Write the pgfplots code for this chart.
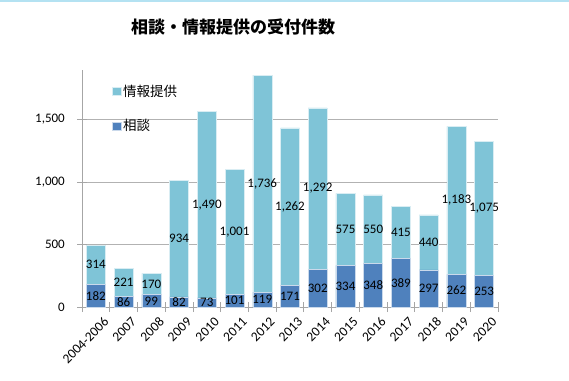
\documentclass[border=0pt]{standalone}
\usepackage{pgfplots}
\usepackage{pgfplotstable}
\pgfplotsset{compat=1.18}
\usepackage{fontspec}
\setmainfont{Carlito}
\newfontfamily\cjk{Noto Sans CJK JP}
\definecolor{dark}{HTML}{4F81BD}
\definecolor{light}{HTML}{7FC4D7}
\definecolor{topline}{HTML}{B4E2F2}
\pgfplotstableread{
x a b
0 182 314
1 86 221
2 99 170
3 82 934
4 73 1490
5 101 1001
6 119 1736
7 171 1262
8 302 1292
9 334 575
10 348 550
11 389 415
12 297 440
13 262 1183
14 253 1075
}\data
\begin{document}
\begin{tikzpicture}
\path[use as bounding box] (0,0) rectangle (569pt,-380pt);
\draw[line width=2pt, topline] (0,-1pt) -- (569pt,-1pt);
\node[font=\cjk\bfseries\fontsize{17}{19}\selectfont, anchor=center] at (233pt,-27pt) {相談・情報提供の受付件数};
\begin{axis}[
  at={(82pt,-307pt)}, anchor=south west,
  scale only axis, width=416pt, height=237.5pt,
  xmin=-0.5, xmax=14.5, ymin=0, ymax=1900,
  axis x line*=bottom, axis y line*=left,
  axis line style={draw=gray!70, line width=0.8pt},
  every inner x axis line/.append style={-}, every inner y axis line/.append style={-},
  ytick={0,500,1000,1500},
  ymajorgrids, grid style={gray!60, line width=0.6pt},
  xtick={0,...,14},
  xticklabels={2004-2006,2007,2008,2009,2010,2011,2012,2013,2014,2015,2016,2017,2018,2019,2020},
  minor xtick={-0.5,0.5,...,14.5},
  major x tick style={draw=none},
  minor x tick style={draw=gray!70, line width=0.8pt},
  major y tick style={draw=gray!70, line width=0.8pt},
  tick align=center, major tick length=10pt, minor tick length=10pt,
  x tick label style={rotate=45, anchor=north east, font=\fontsize{13.5}{15}\selectfont, inner sep=0pt, yshift=-8pt, xshift=2pt},
  y tick label style={font=\fontsize{13}{15}\selectfont, inner sep=0pt, xshift=-12pt},
  /pgf/number format/assume math mode=true,
  /pgf/number format/1000 sep={,},
  legend style={font=\cjk\fontsize{13.5}{15}\selectfont, draw=none, fill=none, at={(0.071,0.945)}, anchor=north west, row sep=18pt, inner sep=0pt},
  legend cell align=left,
  legend image code/.code={\fill[#1] (0pt,-4pt) rectangle (9pt,4pt);},
  clip=false,
]
\addplot[ybar, bar shift=0pt, bar width=19pt, fill=light, draw=white!70!light, line width=0.5pt] table[x=x, y expr=\thisrow{a}+\thisrow{b}] {\data};
\addplot[ybar, bar shift=0pt, bar width=19pt, fill=dark, draw=white!70!dark, line width=0.5pt] table[x=x, y=a] {\data};
\legend{情報提供,相談}
\addplot[draw=none, mark=none, forget plot, nodes near coords, point meta=explicit,
  every node near coord/.append style={anchor=center, font=\fontsize{13}{15}\selectfont, black, inner sep=0pt}]
  table[x=x, y expr=\thisrow{a}/2, meta=a] {\data};
\addplot[draw=none, mark=none, forget plot, nodes near coords, point meta=explicit,
  every node near coord/.append style={anchor=center, font=\fontsize{13}{15}\selectfont, black, inner sep=0pt}]
  table[x=x, y expr=\thisrow{a}+\thisrow{b}/2, meta=b] {\data};
\end{axis}
\end{tikzpicture}
\end{document}
